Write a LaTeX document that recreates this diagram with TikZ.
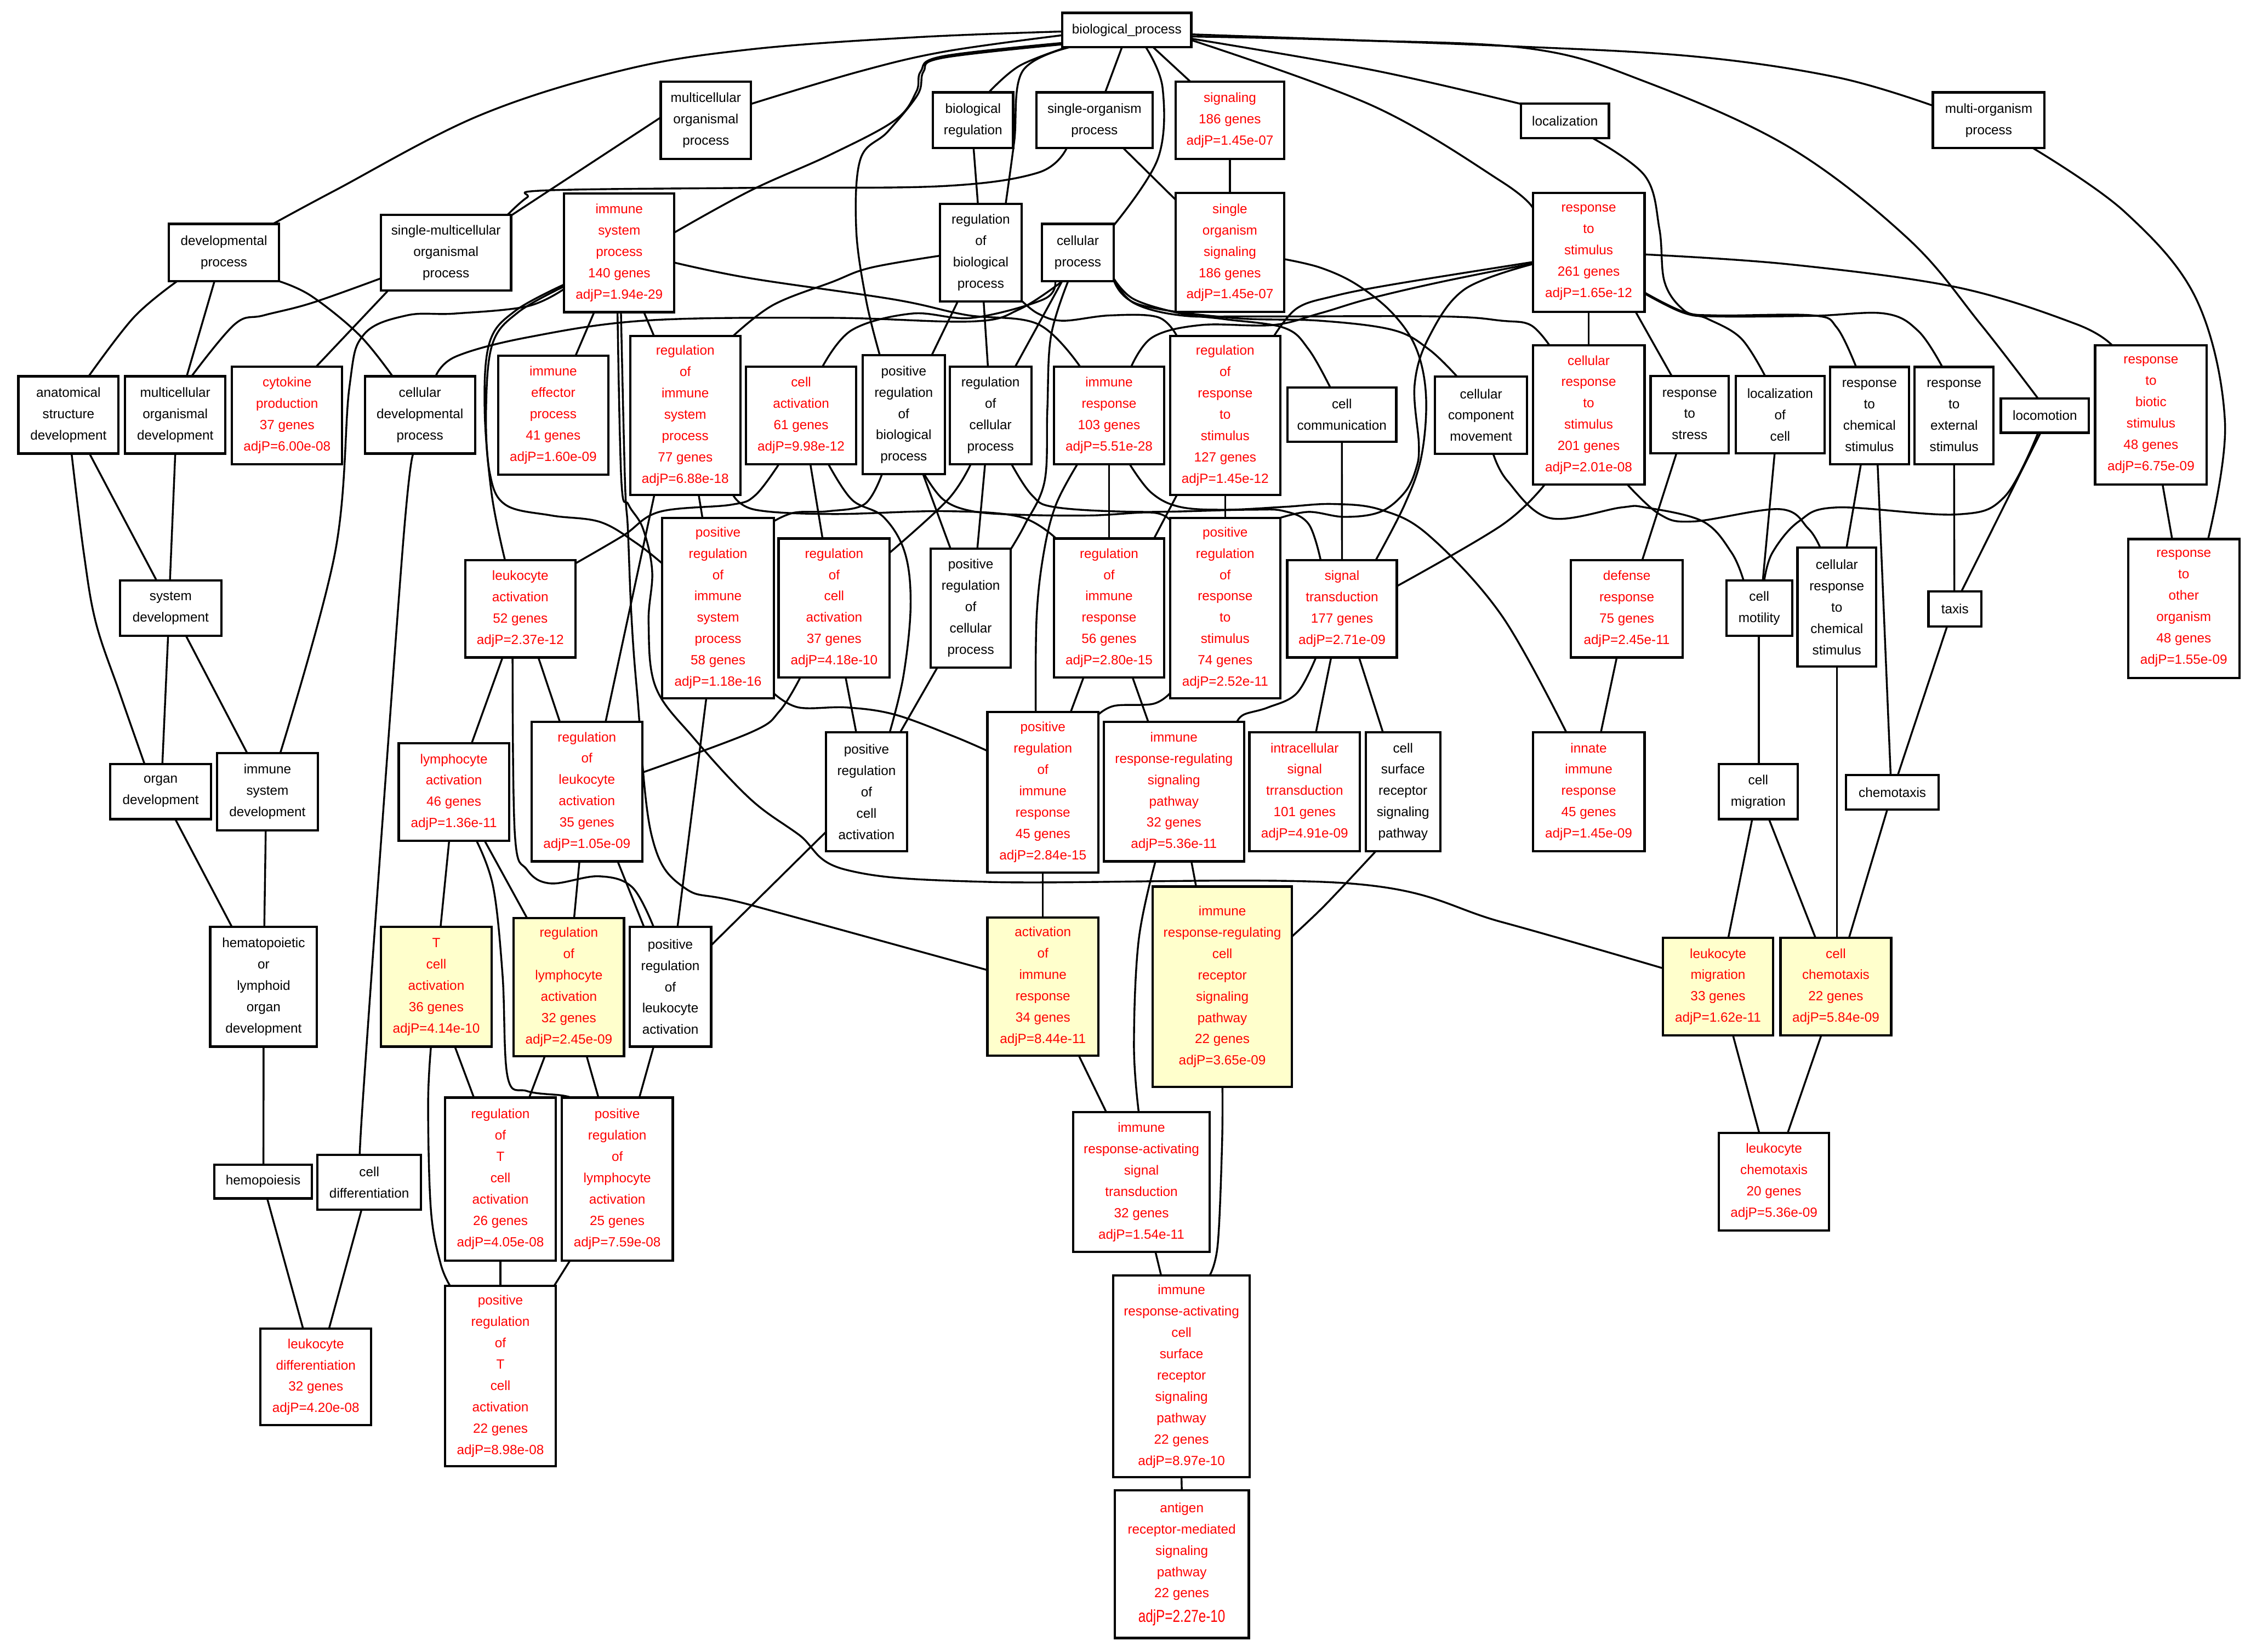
\documentclass[tikz,border=0pt]{standalone}
\usepackage{fontspec}
\setmainfont{Liberation Sans}
\usepackage{graphicx}
\usetikzlibrary{backgrounds}
\definecolor{gored}{HTML}{FF0000}
\definecolor{hly}{HTML}{FFFFCC}
\tikzset{
  gobox/.style={draw=black, line width=1.6pt, fill=white, align=center, inner sep=0pt, font=\fontsize{9.3}{14.9}\selectfont},
  sigbox/.style={gobox, text=gored},
  hlbox/.style={sigbox, fill=hly},
  wh/.style 2 args={minimum width=#1pt, minimum height=#2pt},
  edge/.style={line width=1.3pt, line cap=round, line join=round},
  sm/.style={smooth, tension=0.6}
}
\begin{document}
\begin{tikzpicture}[x=1pt,y=-1pt]
% ---------- nodes ----------
\node[gobox,wh={90}{24}] (bp) at (787,21) {biological\_process};
\node[gobox,wh={63}{54}] (mopr) at (493,84) {multicellular\\organismal\\process};
\node[gobox,wh={56}{39}] (br) at (679.6,84) {biological\\regulation};
\node[gobox,wh={81}{39}] (sop) at (764.4,84) {single-organism\\process};
\node[sigbox,wh={76}{54}] (sig) at (859,84) {signaling\\186 genes\\adjP=1.45e-07};
\node[gobox,wh={61.5}{24}] (loc) at (1093,84.5) {localization};
\node[gobox,wh={78}{39}] (mop2) at (1389,84) {multi-organism\\process};
\node[gobox,wh={77}{40}] (devp) at (156.4,176.4) {developmental\\process};
\node[gobox,wh={91}{53}] (smop) at (311.5,176.5) {single-multicellular\\organismal\\process};
\node[sigbox,wh={77}{83}] (isp) at (432.5,176.5) {immune\\system\\process\\140 genes\\adjP=1.94e-29};
\node[gobox,wh={57}{68}] (rbp) at (685,176.4) {regulation\\of\\biological\\process};
\node[gobox,wh={50}{40}] (cp) at (752.8,176.4) {cellular\\process};
\node[sigbox,wh={76}{83}] (sos) at (859,176.4) {single\\organism\\signaling\\186 genes\\adjP=1.45e-07};
\node[sigbox,wh={78}{83}] (rts) at (1109.6,176.4) {response\\to\\stimulus\\261 genes\\adjP=1.65e-12};
% row 3
\node[gobox,wh={70}{54}] (asd) at (47.8,289.8) {anatomical\\structure\\development};
\node[gobox,wh={70}{54}] (mod) at (122.4,289.8) {multicellular\\organismal\\development};
\node[sigbox,wh={77}{68}] (cyto) at (200.5,290.2) {cytokine\\production\\37 genes\\adjP=6.00e-08};
\node[gobox,wh={77}{54}] (cdp) at (293.3,289.8) {cellular\\developmental\\process};
\node[sigbox,wh={77}{83}] (iep) at (386.4,289.9) {immune\\effector\\process\\41 genes\\adjP=1.60e-09};
\node[sigbox,wh={77}{111}] (rissp) at (478.6,290.2) {regulation\\of\\immune\\system\\process\\77 genes\\adjP=6.88e-18};
\node[sigbox,wh={77}{68}] (ca) at (559.5,290.2) {cell\\activation\\61 genes\\adjP=9.98e-12};
\node[gobox,wh={57.5}{83}] (prbp) at (631.2,289.7) {positive\\regulation\\of\\biological\\process};
\node[gobox,wh={57}{68}] (rcp) at (691.8,290.2) {regulation\\of\\cellular\\process};
\node[sigbox,wh={77}{68}] (ir) at (774.6,290.2) {immune\\response\\103 genes\\adjP=5.51e-28};
\node[sigbox,wh={77}{111}] (rrs) at (855.7,290.2) {regulation\\of\\response\\to\\stimulus\\127 genes\\adjP=1.45e-12};
\node[gobox,wh={76}{38}] (ccomm) at (937.2,289.6) {cell\\communication};
\node[gobox,wh={64.5}{54}] (ccm) at (1034.4,289.9) {cellular\\component\\movement};
\node[sigbox,wh={78}{97}] (crs) at (1109.6,289.8) {cellular\\response\\to\\stimulus\\201 genes\\adjP=2.01e-08};
\node[gobox,wh={54.5}{54}] (stress) at (1180.1,289.6) {response\\to\\stress};
\node[gobox,wh={62}{54}] (locell) at (1243.3,289.6) {localization\\of\\cell};
\node[gobox,wh={55}{68}] (rcs) at (1305.7,290.3) {response\\to\\chemical\\stimulus};
\node[gobox,wh={55}{68}] (res) at (1364.8,290.3) {response\\to\\external\\stimulus};
\node[gobox,wh={61.5}{24}] (loco) at (1428.2,290.2) {locomotion};
\node[sigbox,wh={78}{97}] (rbs) at (1502.3,289.8) {response\\to\\biotic\\stimulus\\48 genes\\adjP=6.75e-09};
% row 4
\node[gobox,wh={70.6}{38.4}] (sd) at (119.2,424.7) {system\\development};
\node[sigbox,wh={77}{68}] (la) at (363.4,425.2) {leukocyte\\activation\\52 genes\\adjP=2.37e-12};
\node[sigbox,wh={78}{126}] (prissp) at (501.5,424.6) {positive\\regulation\\of\\immune\\system\\process\\58 genes\\adjP=1.18e-16};
\node[sigbox,wh={77.6}{97}] (rca) at (582.6,424.6) {regulation\\of\\cell\\activation\\37 genes\\adjP=4.18e-10};
\node[gobox,wh={56}{83}] (prcp) at (678,424.7) {positive\\regulation\\of\\cellular\\process};
\node[sigbox,wh={77}{97}] (rir) at (774.6,424.6) {regulation\\of\\immune\\response\\56 genes\\adjP=2.80e-15};
\node[sigbox,wh={77}{126}] (prrs) at (855.7,424.6) {positive\\regulation\\of\\response\\to\\stimulus\\74 genes\\adjP=2.52e-11};
\node[sigbox,wh={76.6}{68}] (st) at (937.3,425.2) {signal\\transduction\\177 genes\\adjP=2.71e-09};
\node[sigbox,wh={78}{68}] (def) at (1136.2,425.2) {defense\\response\\75 genes\\adjP=2.45e-11};
\node[gobox,wh={46}{38.4}] (cmot) at (1228.7,424.7) {cell\\motility};
\node[gobox,wh={55}{83}] (crcs) at (1282.9,424) {cellular\\response\\to\\chemical\\stimulus};
\node[gobox,wh={37}{24.6}] (taxis) at (1365.4,425.2) {taxis};
\node[sigbox,wh={77.6}{97}] (rto) at (1525.2,425) {response\\to\\other\\organism\\48 genes\\adjP=1.55e-09};
% row 5
\node[gobox,wh={70.6}{38.4}] (od) at (112.2,552.9) {organ\\development};
\node[gobox,wh={70.6}{54}] (isd) at (186.8,552.9) {immune\\system\\development};
\node[sigbox,wh={77}{68}] (lya) at (317,553.2) {lymphocyte\\activation\\46 genes\\adjP=1.36e-11};
\node[sigbox,wh={77.3}{97.6}] (rla) at (409.9,552.8) {regulation\\of\\leukocyte\\activation\\35 genes\\adjP=1.05e-09};
\node[gobox,wh={56.5}{83}] (prca) at (605.2,553) {positive\\regulation\\of\\cell\\activation};
\node[sigbox,wh={77.6}{112}] (pri) at (728.4,553.3) {positive\\regulation\\of\\immune\\response\\45 genes\\adjP=2.84e-15};
\node[sigbox,wh={98}{97.4}] (irrsp) at (819.9,552.9) {immune\\response-regulating\\signaling\\pathway\\32 genes\\adjP=5.36e-11};
\node[sigbox,wh={77.2}{83}] (ist) at (911.2,553) {intracellular\\signal\\trransduction\\101 genes\\adjP=4.91e-09};
\node[gobox,wh={52.2}{83}] (cssp) at (979.9,553) {cell\\surface\\receptor\\signaling\\pathway};
\node[sigbox,wh={78}{83}] (innate) at (1109.6,553) {innate\\immune\\response\\45 genes\\adjP=1.45e-09};
\node[gobox,wh={55.2}{38.4}] (cmig) at (1228,552.9) {cell\\migration};
\node[gobox,wh={64.5}{24.2}] (chemo) at (1321.7,553.4) {chemotaxis};
% row 6
\node[gobox,wh={74.6}{83.5}] (hlod) at (184.1,689.2) {hematopoietic\\or\\lymphoid\\organ\\development};
\node[hlbox,wh={77.6}{83.5}] (tca) at (304.7,689.2) {T\\cell\\activation\\36 genes\\adjP=4.14e-10};
\node[hlbox,wh={77}{96.5}] (rlya) at (397.3,689.3) {regulation\\of\\lymphocyte\\activation\\32 genes\\adjP=2.45e-09};
\node[gobox,wh={57}{83.5}] (prla) at (468.2,689.2) {positive\\regulation\\of\\leukocyte\\activation};
\node[hlbox,wh={77.6}{96.5}] (aoir) at (728.4,689) {activation\\of\\immune\\response\\34 genes\\adjP=8.44e-11};
\node[hlbox,wh={97.3}{140}] (ircrsp) at (853.7,689.2) {immune\\response-regulating\\cell\\receptor\\signaling\\pathway\\22 genes\\adjP=3.65e-09};
\node[hlbox,wh={77.2}{68.2}] (lm) at (1199.9,689.1) {leukocyte\\migration\\33 genes\\adjP=1.62e-11};
\node[hlbox,wh={77.3}{68.2}] (cc) at (1282.2,689.1) {cell\\chemotaxis\\22 genes\\adjP=5.84e-09};
% row 7
\node[gobox,wh={68}{23.6}] (hemo) at (183.8,825.2) {hemopoiesis};
\node[gobox,wh={72.3}{38.3}] (celldiff) at (257.9,825.7) {cell\\differentiation};
\node[sigbox,wh={77.6}{114}] (rtca) at (349.5,823.6) {regulation\\of\\T\\cell\\activation\\26 genes\\adjP=4.05e-08};
\node[sigbox,wh={77.6}{114}] (prlya) at (431.1,823.6) {positive\\regulation\\of\\lymphocyte\\activation\\25 genes\\adjP=7.59e-08};
\node[sigbox,wh={95.3}{97.7}] (iras) at (797.2,825.5) {immune\\response-activating\\signal\\transduction\\32 genes\\adjP=1.54e-11};
\node[sigbox,wh={76.8}{68.2}] (lc) at (1239,825.3) {leukocyte\\chemotaxis\\20 genes\\adjP=5.36e-09};
% row 8
\node[sigbox,wh={77.3}{67.5}] (ld) at (220.6,961.7) {leukocyte\\differentiation\\32 genes\\adjP=4.20e-08};
\node[sigbox,wh={77.6}{126}] (prtca) at (349.5,961.1) {positive\\regulation\\of\\T\\cell\\activation\\22 genes\\adjP=8.98e-08};
\node[sigbox,wh={95.3}{140.8}] (iracsrsp) at (825.2,961.3) {immune\\response-activating\\cell\\surface\\receptor\\signaling\\pathway\\22 genes\\adjP=8.97e-10};
% row 9
\node[sigbox,wh={93.6}{103.3}] (arsp) at (825.4,1092.4) {antigen\\receptor-mediated\\signaling\\pathway\\22 genes\\[2pt]\scalebox{1}[1.3]{adjP=2.27e-10}};

\begin{pgfonlayer}{background}
\fill[white] (0,0) rectangle (1568,1153.7);
\path[use as bounding box] (0,0) rectangle (1568,1153.7);
% ---------- curved connectors ----------
\draw[edge] plot[sm] coordinates {([shift={(-45,1)}]bp.center) (640,26) (524,34.5) (435,49) (334,81) (234,133) ([shift={(34.2,-20)}]devp.center)};
\draw[edge] plot[sm] coordinates {([shift={(-45,3.6)}]bp.center) (660,36) (600,50) ([shift={(31.5,-11.4)}]mopr.center)};
\draw[edge] plot[sm] coordinates {([shift={(-45,9)}]bp.center) (658,39.4) (643,50) (640,64) (625,84) (580,108) (524.4,133) ([shift={(38.5,-14.1)}]isp.center)};
\draw[edge] plot[sm] coordinates {([shift={(-45,10)}]bp.center) (658,40.5) (645,50) (641,66) (620,92) (601,111) (598,160) (605,210) ([shift={(-16.6,-41.2)}]prbp.center)};
\draw[edge] plot[sm] coordinates {([shift={(-42,12)}]bp.center) (712,46) ([shift={(11,-19.5)}]br.center)};
\draw[edge] plot[sm] coordinates {([shift={(-40,12)}]bp.center) (714,50) (708.4,98.5) ([shift={(17.4,-34)}]rbp.center)};
\draw[edge] plot[sm] coordinates {([shift={(13.3,12)}]bp.center) (812,61.5) (808.7,110.8) ([shift={(25,-18.9)}]cp.center)};
\draw[edge] plot[sm] coordinates {([shift={(45,6)}]bp.center) (959,49) ([shift={(-30.7,-11.9)}]loc.center)};
\draw[edge] plot[sm] coordinates {([shift={(45,7)}]bp.center) (959,74) (1049,127) ([shift={(-39,-31.2)}]rts.center)};
\draw[edge] plot[sm] coordinates {([shift={(45,3)}]bp.center) (1049,32) (1183,39.4) (1283,54) ([shift={(-39,-10.2)}]mop2.center)};
\draw[edge] plot[sm] coordinates {([shift={(45,4.5)}]bp.center) (940,28) (1069,34) (1149,57) (1250,103) (1333,167) (1383,226) ([shift={(-4.7,-11.8)}]loco.center)};
\draw[edge] plot[sm] coordinates {([shift={(-19.4,19.5)}]sop.center) (725,120.6) (658,130) (524,131.2) (381,133) (368,138) ([shift={(43,-26.5)}]smop.center)};
\draw[edge] plot[sm] coordinates {([shift={(19.4,12)}]loc.center) (1149,123) (1159,160) (1162.6,197) (1176,216.6) (1192.7,222.7) (1216,236.3) ([shift={(-10.5,-27)}]locell.center)};
\draw[edge] plot[sm] coordinates {([shift={(31,19.5)}]mop2.center) (1484,148) (1534,209) (1554,295) ([shift={(17,-48.5)}]rto.center)};
\draw[edge] plot[sm] coordinates {([shift={(-32.7,20)}]devp.center) (93.6,221.5) ([shift={(14.1,-27)}]asd.center)};
\draw[edge] plot[sm] coordinates {([shift={(38.5,20)}]devp.center) (217.4,206.7) (250.8,233.8) ([shift={(-19.1,-27)}]cdp.center)};
\draw[edge] plot[sm] coordinates {([shift={(-45.5,17.9)}]smop.center) (217.4,211.7) (184,220.3) (164,226.4) ([shift={(11.4,-27)}]mod.center)};
\draw[edge] plot[sm] coordinates {([shift={(38.5,6.9)}]isp.center) (524.4,194.4) (624.7,209.2) (675,220) (725,226.4) ([shift={(-20.1,-34)}]ir.center)};
\draw[edge] plot[sm] coordinates {([shift={(-38.5,25.3)}]isp.center) (368,214) (317.7,219) (284,220.3) (254,233.8) (244,270.7) (234,386) ([shift={(8.9,-26.8)}]isd.center)};
\draw[edge] plot[sm] coordinates {([shift={(-38.5,22.2)}]isp.center) (360,217) (342,239) (338.5,285.6) (343.5,345.8) ([shift={(-10.7,-34)}]la.center)};
\draw[edge] plot[sm] coordinates {([shift={(-38.5,23.5)}]isp.center) (362,218) (344,240) (339.5,285) (342,330) (353,352.5) (385,360) (419,364.5) (444,379) ([shift={(-39,-31.1)}]prissp.center)};
\draw[edge] plot[sm] coordinates {([shift={(-1.2,41.5)}]isp.center) (434,336) (439,352.5) (449,369) (455.5,399) (453,435) (458,480) (485,516) (524,558) (558,583) (591,607.5) (692,616) (942.5,617) (1049,644) ([shift={(-38.6,-12.9)}]lm.center)};
\draw[edge] plot[sm] coordinates {([shift={(1.2,41.5)}]isp.center) (436.5,336) (438.5,369) (441,430) (445,484) (455,583) (478,620) (524,632) ([shift={(-38.8,-11.5)}]aoir.center)};
\draw[edge] plot[sm] coordinates {([shift={(-10.8,20)}]cp.center) (712,216) (679,224.5) (580.6,222) (452,223.8) (369,235.5) (318.4,249) ([shift={(11,-27)}]cdp.center)};
\draw[edge] plot[sm] coordinates {([shift={(-15.8,20)}]cp.center) (729,209) (679,222) (637,219) (595,230.5) ([shift={(14.9,-34)}]ca.center)};
\draw[edge] plot[sm] coordinates {([shift={(-6.8,20)}]cp.center) (734,235) (731.5,286) (729.6,336) (716,366) ([shift={(28,-41.2)}]prcp.center)};
\draw[edge] plot[sm] coordinates {([shift={(25,18)}]cp.center) (792,209) (825,219) (856,223) (897,229) (914,244) ([shift={(-8.1,-19)}]ccomm.center)};
\draw[edge] plot[sm] coordinates {([shift={(25,18.6)}]cp.center) (792,211.7) (825,220.3) (872,221) (1006,221) (1049,224) (1069,227) ([shift={(-27.3,-48.5)}]crs.center)};
\draw[edge] plot[sm] coordinates {([shift={(25,19)}]cp.center) (795,212.5) (860,222) (922,224) (973,230.5) (998,244) ([shift={(-16.7,-26.9)}]ccm.center)};
\draw[edge] plot[sm] coordinates {([shift={(-28.5,2.2)}]rbp.center) (608,187) (581,197) (540,213) ([shift={(33.4,-55.5)}]rissp.center)};
\draw[edge] plot[sm] coordinates {([shift={(28.5,33.6)}]rbp.center) (725,219) (742,224) (775,220.3) (808.7,221.5) ([shift={(-33.7,-55.5)}]rrs.center)};
\draw[edge] plot[sm] coordinates {([shift={(38,4.6)}]sos.center) (922.4,187) (947.5,198.7) (972.6,218.8) (989.3,243.8) (996,277.3) (992.7,319) (981,352.5) ([shift={(23.6,-34)}]st.center)};
\draw[edge] plot[sm] coordinates {([shift={(-39,6.6)}]rts.center) (972.6,198.7) (930.8,207) (905.7,215.4) ([shift={(34.1,-55.5)}]rrs.center)};
\draw[edge] plot[sm] coordinates {([shift={(-39,7.6)}]rts.center) (1006,197) (956,208.7) (922,218.8) (889,227) (839,227) (805,235.5) ([shift={(15.4,-34)}]ir.center)};
\draw[edge] plot[sm] coordinates {([shift={(-39,8)}]rts.center) (1023,202) (998,235.5) (988,269) (991,310.7) (989,327.4) (981,344) (964,357.5) (939,361) (914,357.5) ([shift={(37.3,-62.6)}]prrs.center)};
\draw[edge] plot[sm] coordinates {([shift={(39,27.9)}]rts.center) (1176,217.8) (1199.4,220.3) (1266.3,220.3) (1283,228.9) ([shift={(-9.3,-34)}]rcs.center)};
\draw[edge] plot[sm] coordinates {([shift={(39,28.6)}]rts.center) (1176,218.5) (1199,221) (1266,220.6) (1316.5,219) (1340,231.4) ([shift={(-8.2,-34)}]res.center)};
\draw[edge] plot[sm] coordinates {([shift={(39,1.3)}]rts.center) (1249.6,184.6) (1366.6,200.6) (1450.2,226.4) ([shift={(-27,-48.5)}]rbs.center)};
\draw[edge] plot[sm] coordinates {([shift={(2.2,27)}]asd.center) (58.5,386) (67,435) (83.6,484) ([shift={(-11.2,-19.2)}]od.center)};
\draw[edge] plot[sm] coordinates {([shift={(-4.3,27)}]cdp.center) (281,386) (253.2,771.7) ([shift={(-4.9,-19.2)}]celldiff.center)};
\draw[edge] plot[sm] coordinates {([shift={(-15.5,34)}]ca.center) (527.4,346) (510.7,352.5) (460.5,357.5) (435.4,374) ([shift={(38.5,-31.7)}]la.center)};
\draw[edge] plot[sm] coordinates {([shift={(19.1,34)}]ca.center) (595,349) (617,361) (632,386) (636,423) (631,472) ([shift={(16.2,-41.5)}]prca.center)};
\draw[edge] plot[sm] coordinates {([shift={(-15.2,41.5)}]prbp.center) (604,352) (579,357) (555,358) ([shift={(39,-60.6)}]prissp.center)};
\draw[edge] plot[sm] coordinates {([shift={(14.3,41.5)}]prbp.center) (659,349) (679,357) (712,359.5) (762,360) (805,358) ([shift={(-37.7,-60.6)}]prrs.center)};
\draw[edge] plot[sm] coordinates {([shift={(-13.8,34)}]rcp.center) (662,349) ([shift={(38.8,-38.6)}]rca.center)};
\draw[edge] plot[sm] coordinates {([shift={(14.7,34)}]rcp.center) (720.7,345.8) (737.5,354.3) (796,357.5) (872,356) (897,357) (914,366) ([shift={(-14.9,-34)}]st.center)};
\draw[edge] plot[sm] coordinates {([shift={(33.4,55.5)}]rissp.center) (527.4,356) (581,359) (660,357) (712.4,361) ([shift={(-37,-48.5)}]rir.center)};
\draw[edge] plot[sm] coordinates {([shift={(-22.1,34)}]ir.center) (737.5,352.5) (729,386) (724,431) ([shift={(-5,-56)}]pri.center)};
\draw[edge] plot[sm] coordinates {([shift={(14.4,34)}]ir.center) (804,344) (824,354) (856,356) (897,354) (931,352) (964.3,356) (998,374) (1048.9,430) ([shift={(-15.6,-41.5)}]innate.center)};
\draw[edge] plot[sm] coordinates {([shift={(8.4,26.7)}]ccm.center) (1052.8,335.8) (1082.3,361.8) (1132.5,354.4) (1149.2,354.4) (1189.4,364.2) (1209.4,386) ([shift={(-10.9,-19.2)}]cmot.center)};
\draw[edge] plot[sm] coordinates {([shift={(-30.6,48.5)}]crs.center) (1049,366.7) ([shift={(38.3,-15.8)}]st.center)};
\draw[edge] plot[sm] coordinates {([shift={(26.9,48.5)}]crs.center) (1159.3,359.3) (1182.7,364.2) (1243,355.6) (1263,369.2) ([shift={(-11.6,-41.5)}]crcs.center)};
\draw[edge] plot[sm] coordinates {([shift={(-4.7,12)}]loco.center) (1400,347) (1366.6,359.3) (1283,354.4) (1256.3,364.2) (1237.9,386) ([shift={(3.5,-19.2)}]cmot.center)};
\draw[edge] plot[sm] coordinates {([shift={(-5.4,34)}]la.center) (359.6,582.7) (368,607.3) (384.6,617) (418,612) (441.5,619.6) ([shift={(-11.7,-41.8)}]prla.center)};
\draw[edge] plot[sm] coordinates {([shift={(-23.6,48.5)}]rca.center) (544.5,496.6) (524.4,511.5) ([shift={(38.6,-13.2)}]rla.center)};
\draw[edge] plot[sm] coordinates {([shift={(39,59.7)}]prissp.center) (557.8,494.1) (591.3,494.1) (624.7,499) (664.9,513.8) ([shift={(-38.8,-28.9)}]pri.center)};
\draw[edge] plot[sm] coordinates {([shift={(-38.5,59.6)}]prrs.center) (805.3,491.6) (778.6,492.9) ([shift={(38.8,-54.3)}]pri.center)};
\draw[edge] plot[sm] coordinates {([shift={(-18.2,34)}]st.center) (905.7,484.2) (885.6,494.1) (868.9,499) ([shift={(44,-48.7)}]irrsp.center)};
\draw[edge] plot[sm] coordinates {([shift={(15.8,34)}]lya.center) (344.5,619.6) (351,681) (354.5,752) (368,762) (392,765) ([shift={(-32.1,-57)}]prlya.center)};
\draw[edge] plot[sm] coordinates {([shift={(-3.7,41.8)}]tca.center) (299,772) (301,845.5) (307.7,882.4) ([shift={(-35.1,-63)}]prtca.center)};
\draw[edge] plot[sm] coordinates {([shift={(-12.9,48.7)}]irrsp.center) (795.3,656.5) (792,730.4) ([shift={(-1.9,-48.9)}]iras.center)};
\draw[edge] plot[sm] coordinates {([shift={(-19,41.5)}]cssp.center) (925.7,631.9) ([shift={(48.6,-35.1)}]ircrsp.center)};
\draw[edge] plot[sm] coordinates {([shift={(0.1,70)}]ircrsp.center) (853.5,800) (850.5,869.2) ([shift={(19.6,-70.4)}]iracsrsp.center)};
% ---------- straight connectors ----------
\draw[edge] ([shift={(-3.4,12)}]bp.center) -- ([shift={(7.5,-19.5)}]sop.center);
\draw[edge] ([shift={(18.4,12)}]bp.center) -- ([shift={(-27.6,-27)}]sig.center);
\draw[edge] ([shift={(-31.5,-2)}]mopr.center) -- ([shift={(45.5,-26)}]smop.center);
\draw[edge] ([shift={(20.2,19.5)}]sop.center) -- ([shift={(-38,-37)}]sos.center);
\draw[edge] ([shift={(0.4,19.5)}]br.center) -- ([shift={(-2,-34)}]rbp.center);
\draw[edge] ([shift={(0,27)}]sig.center) -- ([shift={(0,-41.4)}]sos.center);
\draw[edge] ([shift={(-6.6,20)}]devp.center) -- ([shift={(8,-27)}]mod.center);
\draw[edge] ([shift={(-40.5,26.5)}]smop.center) -- ([shift={(20.2,-34)}]cyto.center);
\draw[edge] ([shift={(-17.5,41.5)}]isp.center) -- ([shift={(15.6,-41.5)}]iep.center);
\draw[edge] ([shift={(17.2,41.5)}]isp.center) -- ([shift={(-21.8,-55.5)}]rissp.center);
\draw[edge] ([shift={(-11,20)}]cp.center) -- ([shift={(17.2,-34)}]rcp.center);
\draw[edge] ([shift={(-16,34)}]rbp.center) -- ([shift={(19.3,-41.1)}]prbp.center);
\draw[edge] ([shift={(2,34)}]rbp.center) -- ([shift={(-1.8,-34)}]rcp.center);
\draw[edge] ([shift={(32.9,41.6)}]rts.center) -- ([shift={(-12.5,-27)}]stress.center);
\draw[edge] ([shift={(0,41.6)}]rts.center) -- ([shift={(0,-48.5)}]crs.center);
\draw[edge] ([shift={(14.7,27)}]asd.center) -- ([shift={(-9.8,-19.2)}]sd.center);
\draw[edge] ([shift={(0,27)}]mod.center) -- ([shift={(-0.5,-19.2)}]sd.center);
\draw[edge] ([shift={(-1.8,19.2)}]sd.center) -- ([shift={(1.2,-19.2)}]od.center);
\draw[edge] ([shift={(10.6,19.2)}]sd.center) -- ([shift={(-14.2,-27)}]isd.center);
\draw[edge] ([shift={(10.2,19.2)}]od.center) -- ([shift={(-22.1,-41.8)}]hlod.center);
\draw[edge] ([shift={(-1.2,27)}]isd.center) -- ([shift={(0.5,-41.8)}]hlod.center);
\draw[edge] ([shift={(0,41.8)}]hlod.center) -- ([shift={(0.2,-11.8)}]hemo.center);
\draw[edge] ([shift={(2.8,11.8)}]hemo.center) -- ([shift={(-8.9,-33.75)}]ld.center);
\draw[edge] ([shift={(-5.4,19.2)}]celldiff.center) -- ([shift={(9.2,-33.75)}]ld.center);
\draw[edge] ([shift={(6.5,34)}]ca.center) -- ([shift={(-8.1,-48.5)}]rca.center);
\draw[edge] ([shift={(13.5,41.5)}]prbp.center) -- ([shift={(-14,-41.2)}]prcp.center);
\draw[edge] ([shift={(-3.8,34)}]rcp.center) -- ([shift={(4.6,-41.4)}]prcp.center);
\draw[edge] ([shift={(9.4,55.5)}]rissp.center) -- ([shift={(-10.9,-63)}]prissp.center);
\draw[edge] ([shift={(-21.6,55.5)}]rissp.center) -- ([shift={(13.1,-48.8)}]rla.center);
\draw[edge] ([shift={(0,34)}]ir.center) -- ([shift={(0,-48.5)}]rir.center);
\draw[edge] ([shift={(-33.7,55.5)}]rrs.center) -- ([shift={(31.4,-48.5)}]rir.center);
\draw[edge] ([shift={(0,55.5)}]rrs.center) -- ([shift={(0,-63)}]prrs.center);
\draw[edge] ([shift={(0,19)}]ccomm.center) -- ([shift={(0,-34)}]st.center);
\draw[edge] ([shift={(-9.1,26.7)}]stress.center) -- ([shift={(10.8,-34)}]def.center);
\draw[edge] ([shift={(-3.8,26.7)}]locell.center) -- ([shift={(2.5,-19.2)}]cmot.center);
\draw[edge] ([shift={(-6,34)}]rcs.center) -- ([shift={(6.8,-41.5)}]crcs.center);
\draw[edge] ([shift={(5.7,34)}]rcs.center) -- ([shift={(-1.2,-12.1)}]chemo.center);
\draw[edge] ([shift={(0,34)}]res.center) -- ([shift={(-0.4,-12.3)}]taxis.center);
\draw[edge] ([shift={(-3,12)}]loco.center) -- ([shift={(4.6,-12.3)}]taxis.center);
\draw[edge] ([shift={(8.1,48.5)}]rbs.center) -- ([shift={(-8.1,-48.5)}]rto.center);
\draw[edge] ([shift={(-12.4,34)}]la.center) -- ([shift={(12.4,-34)}]lya.center);
\draw[edge] ([shift={(12.6,34)}]la.center) -- ([shift={(-18.9,-48.8)}]rla.center);
\draw[edge] ([shift={(8,48.5)}]rca.center) -- ([shift={(-7.2,-41.5)}]prca.center);
\draw[edge] ([shift={(-23.2,41.3)}]prcp.center) -- ([shift={(23.5,-41.5)}]prca.center);
\draw[edge] ([shift={(-8.2,63)}]prissp.center) -- ([shift={(5,-41.8)}]prla.center);
\draw[edge] ([shift={(-17.8,48.5)}]rir.center) -- ([shift={(19.4,-56)}]pri.center);
\draw[edge] ([shift={(16.4,48.5)}]rir.center) -- ([shift={(-17.9,-48.7)}]irrsp.center);
\draw[edge] ([shift={(-7.6,34)}]st.center) -- ([shift={(7.9,-41.5)}]ist.center);
\draw[edge] ([shift={(11.9,34)}]st.center) -- ([shift={(-14,-41.5)}]cssp.center);
\draw[edge] ([shift={(-7,34)}]def.center) -- ([shift={(8.5,-41.5)}]innate.center);
\draw[edge] ([shift={(-0.2,19.2)}]cmot.center) -- ([shift={(0.5,-19.2)}]cmig.center);
\draw[edge] ([shift={(0.1,41.5)}]crcs.center) -- ([shift={(0.8,-34.1)}]cc.center);
\draw[edge] ([shift={(-5.5,12.3)}]taxis.center) -- ([shift={(3.8,-12.1)}]chemo.center);
\draw[edge] ([shift={(-3.3,34)}]lya.center) -- ([shift={(3,-41.8)}]tca.center);
\draw[edge] ([shift={(21.5,34)}]lya.center) -- ([shift={(-29.3,-48.3)}]rlya.center);
\draw[edge] ([shift={(-5.2,48.8)}]rla.center) -- ([shift={(3.7,-48.3)}]rlya.center);
\draw[edge] ([shift={(21.5,48.8)}]rla.center) -- ([shift={(-18.4,-41.8)}]prla.center);
\draw[edge] ([shift={(-28.3,28)}]prca.center) -- ([shift={(28.5,-29)}]prla.center);
\draw[edge] ([shift={(13,41.8)}]tca.center) -- ([shift={(-18.5,-57)}]rtca.center);
\draw[edge] ([shift={(-16.7,48.2)}]rlya.center) -- ([shift={(20.1,-57)}]rtca.center);
\draw[edge] ([shift={(12.4,48.2)}]rlya.center) -- ([shift={(-13.1,-57)}]prlya.center);
\draw[edge] ([shift={(-11.7,41.8)}]prla.center) -- ([shift={(15.4,-57)}]prlya.center);
\draw[edge] ([shift={(0,57)}]rtca.center) -- ([shift={(0,-63)}]prtca.center);
\draw[edge] ([shift={(-33.1,57)}]prlya.center) -- ([shift={(37.5,-63)}]prtca.center);
\draw[edge] ([shift={(0,56)}]pri.center) -- ([shift={(0,-48.25)}]aoir.center);
\draw[edge] ([shift={(12.2,48.7)}]irrsp.center) -- ([shift={(-18.3,-70)}]ircrsp.center);
\draw[edge] ([shift={(25.1,48.3)}]aoir.center) -- ([shift={(-24.6,-48.9)}]iras.center);
\draw[edge] ([shift={(9.8,48.8)}]iras.center) -- ([shift={(-14.2,-70.4)}]iracsrsp.center);
\draw[edge] ([shift={(0,70.4)}]iracsrsp.center) -- ([shift={(0,-51.65)}]arsp.center);
\draw[edge] ([shift={(-4.2,19.2)}]cmig.center) -- ([shift={(7.2,-34.1)}]lm.center);
\draw[edge] ([shift={(7.5,19.2)}]cmig.center) -- ([shift={(-14.2,-34.1)}]cc.center);
\draw[edge] ([shift={(-3.6,12.1)}]chemo.center) -- ([shift={(9.2,-34.1)}]cc.center);
\draw[edge] ([shift={(10.5,34.1)}]lm.center) -- ([shift={(-10.3,-34.1)}]lc.center);
\draw[edge] ([shift={(-10.2,34.1)}]cc.center) -- ([shift={(9.6,-34.1)}]lc.center);
\end{pgfonlayer}
\end{tikzpicture}
\end{document}
